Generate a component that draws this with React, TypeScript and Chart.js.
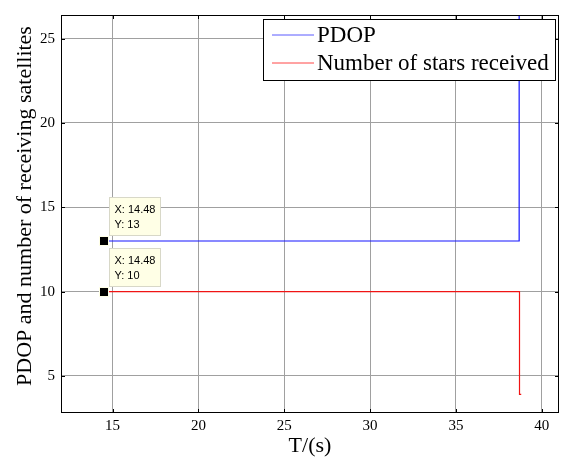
import React, { useEffect, useRef } from "react";
import { Chart, registerables } from "chart.js";

Chart.register(...registerables);

// ---- data ----
const pdopX = [14.48, 38.68, 38.68];
const pdopY = [13, 13, 30];
const starsX = [14.48, 38.7, 38.7, 38.8];
const starsY = [10, 10, 3.9, 3.9];
const seriesLabels = ["PDOP", "Number of stars received"];
const seriesColors = ["rgb(20,20,255)", "rgb(240,20,20)"];
const legendColors = ["rgb(90,90,255)", "rgb(255,70,70)"];
const xTicks = [15, 20, 25, 30, 35, 40];
const yTicks = [5, 10, 15, 20, 25];
const tipX = [14.48, 14.48];
const tipY = [13, 10];
const xTitle = "T/(s)";
const yTitle = "PDOP and number of receiving satellites";

const SERIF = "'Liberation Serif', 'Times New Roman', serif";
const SANS = "'Liberation Sans', Arial, sans-serif";

const decorPlugin = {
  id: "decor",
  afterDraw(chart: any) {
    const { ctx, chartArea: a, scales } = chart;
    const xs = scales.x;
    const ys = scales.y;
    ctx.save();
    ctx.beginPath();
    // frame
    ctx.strokeStyle = "#000";
    ctx.lineWidth = 1;
    ctx.strokeRect(Math.round(a.left) + 0.5, Math.round(a.top) + 0.5, Math.round(a.right - a.left) - 1, Math.round(a.bottom - a.top) - 1);
    // inward ticks
    const tl = 4;
    ctx.beginPath();
    xTicks.forEach((v) => {
      const px = Math.round(xs.getPixelForValue(v)) + 0.5;
      ctx.moveTo(px, a.bottom);
      ctx.lineTo(px, a.bottom - tl);
      ctx.moveTo(px, a.top);
      ctx.lineTo(px, a.top + tl);
    });
    yTicks.forEach((v) => {
      const py = Math.round(ys.getPixelForValue(v)) + 0.5;
      ctx.moveTo(a.left, py);
      ctx.lineTo(a.left + tl, py);
      ctx.moveTo(a.right, py);
      ctx.lineTo(a.right - tl, py);
    });
    ctx.stroke();
    ctx.beginPath();

    // y title
    ctx.save();
    ctx.translate(31, (a.top + a.bottom) / 2 - 8);
    ctx.rotate(-Math.PI / 2);
    ctx.fillStyle = "#000";
    ctx.font = `22px ${SERIF}`;
    ctx.textAlign = "center";
    ctx.textBaseline = "alphabetic";
    ctx.fillText(yTitle, 0, 0);
    ctx.restore();

    // data tips
    tipX.forEach((xv, i) => {
      const px = xs.getPixelForValue(xv);
      const py = ys.getPixelForValue(tipY[i]);
      const bx = Math.round(px + 5) + 0.5;
      const by = Math.round(py - 44) + 0.5;
      const bw = 51;
      const bh = 38;
      ctx.fillStyle = "#ffffe6";
      ctx.fillRect(bx, by, bw, bh);
      ctx.strokeStyle = "#d8d8c8";
      ctx.strokeRect(bx, by, bw, bh);
      ctx.fillStyle = "#000";
      ctx.font = `11px ${SANS}`;
      ctx.textAlign = "left";
      ctx.textBaseline = "alphabetic";
      ctx.fillText(`X: ${xv}`, bx + 5, py - 28);
      ctx.fillText(`Y: ${tipY[i]}`, bx + 5, py - 13);
      // marker
      ctx.fillStyle = "#ffffe6";
      ctx.fillRect(Math.round(px) - 5, Math.round(py) - 5, 10, 10);
      ctx.fillStyle = "#000";
      ctx.fillRect(Math.round(px) - 4, Math.round(py) - 4, 8, 8);
    });

    // legend
    const lx = 263.5, ly = 19.5, lw = 292, lh = 61;
    ctx.fillStyle = "#fff";
    ctx.fillRect(lx, ly, lw, lh);
    ctx.strokeStyle = "#000";
    ctx.lineWidth = 1;
    ctx.strokeRect(lx, ly, lw, lh);
    ctx.font = `23px ${SERIF}`;
    ctx.textBaseline = "middle";
    ctx.textAlign = "left";
    seriesLabels.forEach((lab, i) => {
      const yy = 35 + i * 28;
      ctx.beginPath();
      ctx.strokeStyle = legendColors[i];
      ctx.lineWidth = 1;
      ctx.moveTo(272, yy);
      ctx.lineTo(314, yy);
      ctx.stroke();
      ctx.fillStyle = "#000";
      ctx.fillText(lab, 317, yy + 1);
    });
    ctx.restore();
  },
};

export default function App() {
  const ref = useRef<HTMLCanvasElement | null>(null);
  useEffect(() => {
    const canvas = ref.current;
    if (!canvas) return;
    const chart = new Chart(canvas, {
      type: "line",
      data: {
        datasets: [
          {
            label: seriesLabels[0],
            data: pdopX.map((x, i) => ({ x, y: pdopY[i] })),
            borderColor: seriesColors[0],
            borderWidth: 1.2,
            pointRadius: 0,
            fill: false,
            tension: 0,
          },
          {
            label: seriesLabels[1],
            data: starsX.map((x, i) => ({ x, y: starsY[i] })),
            borderColor: seriesColors[1],
            borderWidth: 1.2,
            pointRadius: 0,
            fill: false,
            tension: 0,
          },
        ],
      },
      options: {
        animation: false,
        responsive: false,
        devicePixelRatio: 1,
        layout: { padding: { top: 13, right: 3, left: 0, bottom: 0 } },
        plugins: { legend: { display: false }, tooltip: { enabled: false } },
        scales: {
          x: {
            type: "linear",
            min: 12,
            max: 41,
            afterBuildTicks: (s: any) => {
              s.ticks = xTicks.map((v) => ({ value: v }));
            },
            afterFit: (s: any) => {
              s.height = 45;
            },
            grid: { color: "#a0a0a0", drawTicks: false, lineWidth: 1 },
            border: { display: false },
            ticks: { color: "#000", padding: 4, font: { family: SERIF, size: 15 }, maxRotation: 0 },
            title: {
              display: true,
              text: xTitle,
              color: "#000",
              font: { family: SERIF, size: 22, lineHeight: 1 },
              padding: { top: 0, bottom: 1 },
            },
          },
          y: {
            type: "linear",
            min: 2.8,
            max: 26.4,
            afterBuildTicks: (s: any) => {
              s.ticks = yTicks.map((v) => ({ value: v }));
            },
            afterFit: (s: any) => {
              s.width = 61;
            },
            grid: { color: "#a0a0a0", drawTicks: false, lineWidth: 1 },
            border: { display: false },
            ticks: { color: "#000", padding: 6, font: { family: SERIF, size: 15 } },
            title: { display: false, text: yTitle },
          },
        },
      },
      plugins: [decorPlugin],
    } as any);
    return () => chart.destroy();
  }, []);
  return (
    <div style={{ position: "absolute", left: 0, top: 0, width: 562, height: 458, background: "#fff" }}>
      <canvas ref={ref} width={562} height={458} />
    </div>
  );
}
